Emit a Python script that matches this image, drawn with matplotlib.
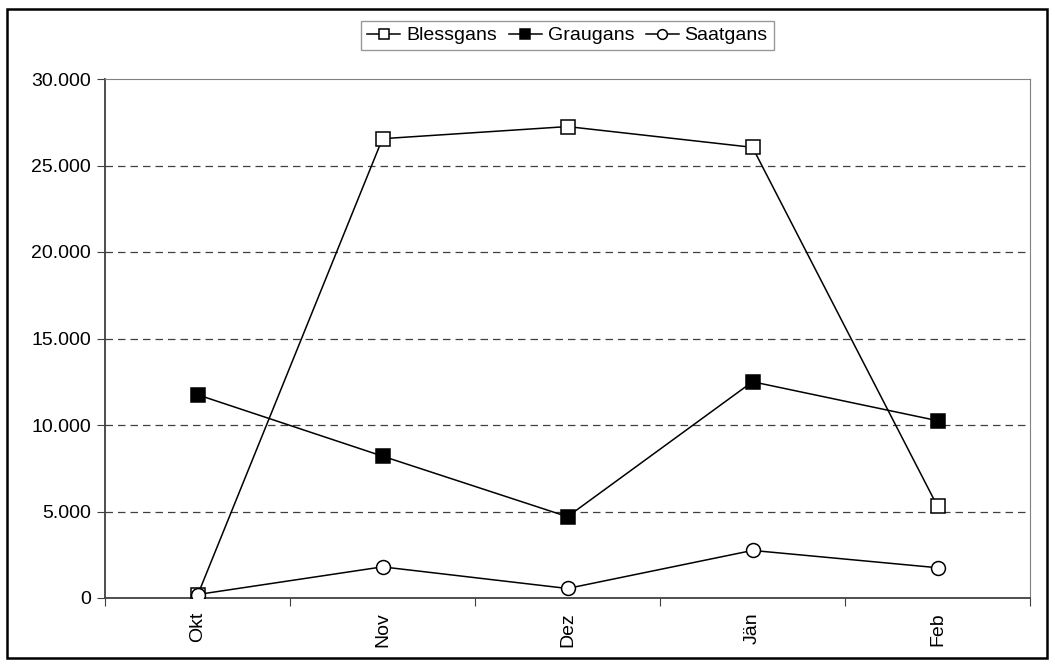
import matplotlib
matplotlib.use("Agg")
from matplotlib import pyplot as plt
from matplotlib.ticker import FuncFormatter, FixedLocator, MultipleLocator
from matplotlib.patches import Rectangle

plt.rcParams['font.family'] = ['Liberation Sans', 'DejaVu Sans']

# Daten
monate = ['Okt', 'Nov', 'Dez', 'Jän', 'Feb']
blessgans = [150, 26550, 27250, 26050, 5300]
graugans = [11750, 8200, 4700, 12500, 10250]
saatgans = [200, 1800, 550, 2750, 1750]

fig = plt.figure(figsize=(10.55, 6.66), dpi=100)
ax = fig.add_axes([105/1055, 1-598/666, 925/1055, 519/666])

xs = list(range(len(monate)))
ax.plot(xs, blessgans, color='black', lw=1.1, marker='s', ms=10,
        mfc='white', mec='black', mew=1.1, label='Blessgans', zorder=3)
ax.plot(xs, graugans, color='black', lw=1.1, marker='s', ms=10,
        mfc='black', mec='black', mew=1.1, label='Graugans', zorder=3)
ax.plot(xs, saatgans, color='black', lw=1.1, marker='o', ms=10,
        mfc='white', mec='black', mew=1.1, label='Saatgans', zorder=4)

ax.set_xlim(-0.5, len(monate) - 0.5)
ax.set_ylim(0, 30000)
ax.yaxis.set_major_locator(MultipleLocator(5000))
ax.yaxis.set_major_formatter(FuncFormatter(lambda v, p: f"{int(v):,}".replace(',', '.')))

# Kategorien-Beschriftung zwischen den Teilstrichen
ax.xaxis.set_major_locator(FixedLocator([i + 0.5 for i in range(-1, len(monate))]))
ax.xaxis.set_major_formatter(FuncFormatter(lambda v, p: ''))
ax.xaxis.set_minor_locator(FixedLocator(xs))
ax.set_xticklabels(monate, minor=True, rotation=90)
ax.tick_params(axis='x', which='minor', length=0, pad=10, labelsize=14)
ax.tick_params(axis='x', which='major', length=6, direction='out', color='#404040')
ax.tick_params(axis='y', length=6, direction='out', color='#404040', labelsize=14, pad=4)

for y in range(5000, 30000, 5000):
    ax.axhline(y, color='#404040', lw=0.9, ls=(0, (6, 4)), zorder=1)

ax.spines['left'].set_color('#404040')
ax.spines['bottom'].set_color('#404040')
ax.spines['left'].set_linewidth(1.3)
ax.spines['bottom'].set_linewidth(1.3)
ax.spines['top'].set_color('#808080')
ax.spines['right'].set_color('#808080')

leg = ax.legend(loc='upper center', bbox_to_anchor=(0.5, 1.112), ncol=3,
                frameon=True, fancybox=False, edgecolor='#808080',
                fontsize=14, handlelength=1.7, handletextpad=0.3,
                columnspacing=0.6, borderpad=0.3, borderaxespad=0, markerscale=0.7)
leg.get_frame().set_linewidth(1.0)

fig.patches.append(Rectangle((7/1055, 1-658/666), 1040/1055, 649/666,
                             transform=fig.transFigure, fill=False,
                             edgecolor='black', lw=1.8))

fig.savefig('out.png', dpi=100)
